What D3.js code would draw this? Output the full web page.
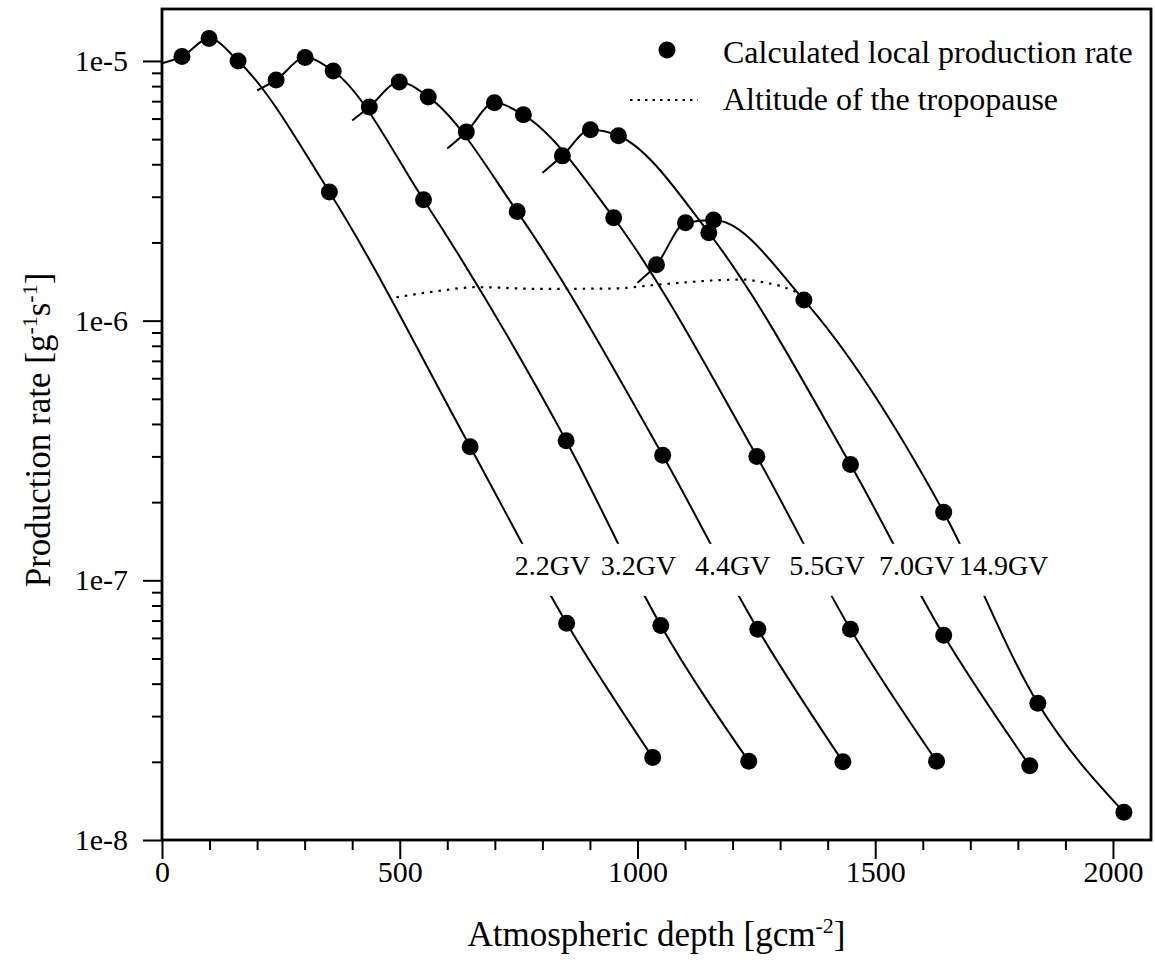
<!DOCTYPE html>
<html>
<head>
<meta charset="utf-8">
<script src="https://cdn.jsdelivr.net/npm/d3@7"></script>
<style>
  body { margin: 0; background: #fff; }
  text { font-family: "Liberation Serif", "Times New Roman", serif; fill: #000; }
</style>
</head>
<body>
<div id="plot"></div>
<script>
// Cutoff rigidities, one curve each
const rigidities = ["2.2GV", "3.2GV", "4.4GV", "5.5GV", "7.0GV", "14.9GV"];

// Calculated local production rates (depth as plotted, curves shifted by 200 gcm-2)
const depth22 = [42, 99, 160, 352, 648, 851, 1032];
const rate22 = [1.04e-5, 1.22e-5, 1.00e-5, 3.13e-6, 3.27e-7, 6.84e-8, 2.08e-8];
const depth32 = [240, 301, 360, 550, 850, 1049, 1234];
const rate32 = [8.45e-6, 1.03e-5, 9.15e-6, 2.92e-6, 3.45e-7, 6.7e-8, 2.01e-8];
const depth44 = [436, 499, 560, 747, 1053, 1253, 1432];
const rate44 = [6.65e-6, 8.3e-6, 7.27e-6, 2.63e-6, 3.03e-7, 6.48e-8, 2.0e-8];
const depth55 = [640, 699, 760, 950, 1251, 1448, 1629];
const rate55 = [5.33e-6, 6.9e-6, 6.2e-6, 2.49e-6, 3.0e-7, 6.48e-8, 2.01e-8];
const depth70 = [842, 901, 960, 1150, 1448, 1644, 1825];
const rate70 = [4.31e-6, 5.43e-6, 5.15e-6, 2.18e-6, 2.79e-7, 6.14e-8, 1.93e-8];
const depth149 = [1040, 1101, 1160, 1350, 1644, 1842, 2023];
const rate149 = [1.64e-6, 2.38e-6, 2.44e-6, 1.2e-6, 1.83e-7, 3.36e-8, 1.28e-8];

// Where each curve starts (top of the atmosphere, shifted)
const startDepth = [0, 200, 400, 600, 800, 1000];
const startRate = [9.8e-6, 7.7e-6, 5.9e-6, 4.6e-6, 3.7e-6, 1.4e-6];

// Altitude of the tropopause
const tropoDepth = [493, 580, 660, 800, 950, 1050, 1223, 1260, 1300, 1338];
const tropoRate = [1.23e-6, 1.30e-6, 1.345e-6, 1.325e-6, 1.33e-6, 1.38e-6, 1.44e-6, 1.41e-6, 1.36e-6, 1.28e-6];

// Curve label anchors
const labelDepth = [742, 923, 1121, 1319, 1508, 1676];
const labelRate = 1.05e-7;

// Axis ticks
const xMajorTicks = [0, 500, 1000, 1500, 2000];
const yMajorTicks = [1e-8, 1e-7, 1e-6, 1e-5];

const depths = [depth22, depth32, depth44, depth55, depth70, depth149];
const rates = [rate22, rate32, rate44, rate55, rate70, rate149];

const series = rigidities.map((r, i) => ({
  label: r,
  points: depths[i].map((d, j) => [d, rates[i][j]]),
  line: [[startDepth[i], startRate[i]]].concat(depths[i].map((d, j) => [d, rates[i][j]]))
}));

// Set up SVG dimensions and margins
const margin = { top: 9, right: 4, bottom: 137, left: 162 };
const width = 1155 - margin.left - margin.right;
const height = 977 - margin.top - margin.bottom;

const root = d3.select("#plot")
  .append("svg")
  .attr("width", 1155)
  .attr("height", 977);

const svg = root.append("g")
  .attr("transform", `translate(${margin.left}, ${margin.top})`);

const x = d3.scaleLinear()
  .domain([0, 2080])
  .range([0, width]);

const y = d3.scaleLog()
  .domain([1e-8, 1.585e-5])
  .range([height, 0]);

// Minor ticks
const xMinor = d3.range(100, 2001, 100).filter(v => v % 500 !== 0);
const yMinor = [];
[1e-8, 1e-7, 1e-6].forEach(p => { for (let k = 2; k <= 9; k++) yMinor.push(p * k); });

svg.append("g")
  .attr("class", "axis")
  .attr("transform", `translate(0, ${height})`)
  .call(d3.axisBottom(x).tickValues(xMinor).tickSize(10).tickFormat(""));

svg.append("g")
  .attr("class", "axis")
  .attr("transform", `translate(0, ${height})`)
  .call(d3.axisBottom(x).tickValues(xMajorTicks).tickSize(19).tickPadding(2).tickFormat(d3.format("d")))
  .selectAll("text")
  .style("font-size", "30px");

svg.append("g")
  .attr("class", "axis")
  .call(d3.axisLeft(y).tickValues(yMinor).tickSize(10).tickFormat(""));

svg.append("g")
  .attr("class", "axis")
  .call(d3.axisLeft(y).tickValues(yMajorTicks).tickSize(19).tickPadding(15)
    .tickFormat(d => "1e" + Math.round(Math.log10(d))))
  .selectAll("text")
  .style("font-size", "30px");

svg.selectAll(".axis path").remove();
svg.selectAll(".axis line").attr("stroke", "#000").attr("stroke-width", 2);
svg.selectAll(".axis text").attr("fill", "#000").style("font-family", '"Liberation Serif", serif');

// Frame
svg.append("rect")
  .attr("width", width)
  .attr("height", height)
  .attr("fill", "none")
  .attr("stroke", "#000")
  .attr("stroke-width", 2.8);

const line = d3.line()
  .x(d => x(d[0]))
  .y(d => y(d[1]))
  .curve(d3.curveMonotoneX);

// Curves
svg.selectAll(".curve")
  .data(series)
  .enter()
  .append("path")
  .attr("class", "curve")
  .attr("d", d => line(d.line))
  .attr("fill", "none")
  .attr("stroke", "#000")
  .attr("stroke-width", 2);

// Tropopause
svg.append("path")
  .attr("d", line(tropoDepth.map((d, i) => [d, tropoRate[i]])))
  .attr("fill", "none")
  .attr("stroke", "#000")
  .attr("stroke-width", 2.2)
  .attr("stroke-dasharray", "2.5,6");

// Curve labels with white background that breaks the lines
const labels = svg.selectAll(".gvlabel")
  .data(rigidities)
  .enter()
  .append("g")
  .attr("class", "gvlabel");

labels.append("text")
  .attr("x", (d, i) => x(labelDepth[i]))
  .attr("y", y(labelRate))
  .style("font-size", "28px")
  .text(d => d);

labels.each(function () {
  const t = d3.select(this).select("text");
  const b = t.node().getBBox();
  d3.select(this).insert("rect", "text")
    .attr("x", b.x - 3)
    .attr("y", b.y - 6)
    .attr("width", b.width + 6)
    .attr("height", b.height + 21)
    .attr("fill", "#fff");
});

// Markers
svg.selectAll(".pts")
  .data(series)
  .enter()
  .append("g")
  .selectAll("circle")
  .data(d => d.points)
  .enter()
  .append("circle")
  .attr("cx", d => x(d[0]))
  .attr("cy", d => y(d[1]))
  .attr("r", 8.5)
  .attr("fill", "#000");

// Legend
const legend = root.append("g");
legend.append("circle").attr("cx", 667).attr("cy", 50).attr("r", 8.5).attr("fill", "#000");
legend.append("text").attr("x", 723).attr("y", 63).style("font-size", "32px")
  .text("Calculated local production rate");
legend.append("line")
  .attr("x1", 630).attr("x2", 698).attr("y1", 100).attr("y2", 100)
  .attr("stroke", "#000").attr("stroke-width", 2.2).attr("stroke-dasharray", "2.5,5");
legend.append("text").attr("x", 723).attr("y", 110).style("font-size", "32px")
  .text("Altitude of the tropopause");

// Axis titles
const xTitle = root.append("text")
  .attr("x", margin.left + width / 2)
  .attr("y", 946)
  .attr("text-anchor", "middle")
  .style("font-size", "35px");
xTitle.append("tspan").text("Atmospheric depth [gcm");
xTitle.append("tspan").attr("dy", -13).style("font-size", "22px").text("-2");
xTitle.append("tspan").attr("dy", 13).text("]");

const yTitle = root.append("text")
  .attr("transform", "translate(50, 430) rotate(-90)")
  .attr("text-anchor", "middle")
  .style("font-size", "35px");
yTitle.append("tspan").text("Production rate [g");
yTitle.append("tspan").attr("dy", -13).style("font-size", "22px").text("-1");
yTitle.append("tspan").attr("dy", 13).text("s");
yTitle.append("tspan").attr("dy", -13).style("font-size", "22px").text("-1");
yTitle.append("tspan").attr("dy", 13).text("]");
</script>
</body>
</html>
